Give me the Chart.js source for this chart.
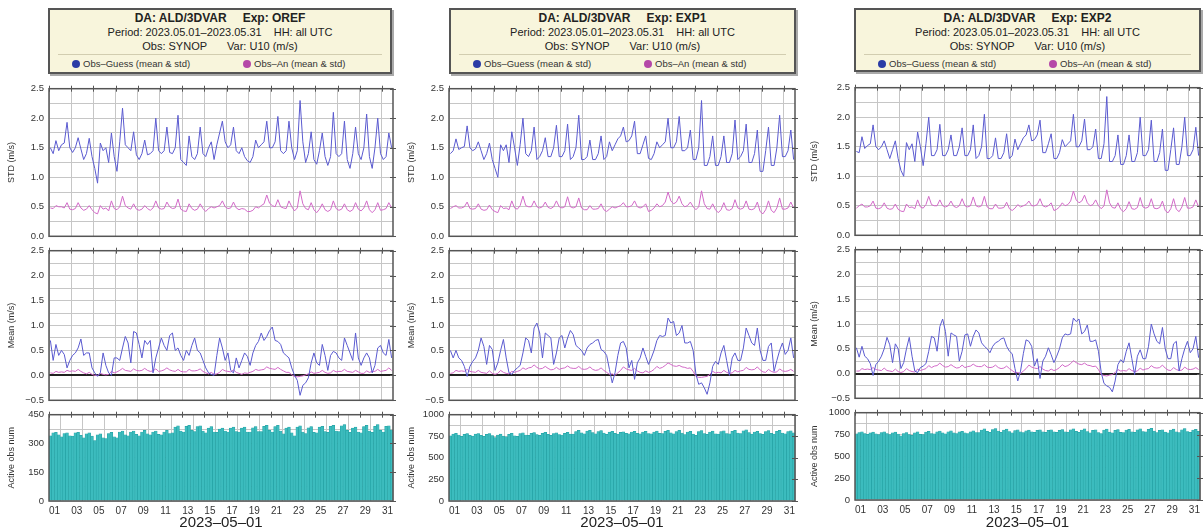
<!DOCTYPE html>
<html>
<head>
<meta charset="utf-8">
<script src="https://cdn.jsdelivr.net/npm/chart.js@4.4.0/dist/chart.umd.min.js"></script>
<style>
  body { margin: 0; width: 1203px; height: 532px; background: #fff; position: relative; overflow: hidden;
         font-family: "Liberation Sans", Arial, sans-serif; }
  canvas { position: absolute; }
  .box { position: absolute; border: 2px solid #555; background: #f8f5dc; box-shadow: 2px 2px 0 #aaa;
         box-sizing: border-box; color: #222; }
  .box .ln { position: absolute; left: 0; width: 100%; text-align: center; white-space: nowrap; }
  .box .l1 { top: 1px; font-weight: bold; font-size: 12px; line-height: 14px; }
  .box .l2 { top: 16px; font-size: 11px; line-height: 13px; }
  .box .l3 { top: 30px; font-size: 11px; line-height: 13px; }
  .box .sep { position: absolute; top: 44px; left: 8px; right: 8px; border-top: 1px solid #d2cdb0; }
  .box .leg { position: absolute; top: 48px; font-size: 9.5px; line-height: 12px; white-space: nowrap; color: #333; }
  .box .dot { display: inline-block; width: 8px; height: 8px; border-radius: 50%; vertical-align: -1px; margin-right: 3px; }
</style>
</head>
<body>
<script>
// x axis: May 2023, values in days since 2023-05-01 00 UTC, 4 samples a day
const gridDays = [0, 2, 4, 6, 8, 10, 12, 14, 16, 18, 20, 22, 24, 26, 28, 30];
const dayLabels = ['01','03','05','07','09','11','13','15','17','19','21','23','25','27','29','31'];
const stdTicks = [0, 0.25, 0.5, 0.75, 1, 1.25, 1.5, 1.75, 2, 2.25, 2.5];
const meanTicks = [-0.5, -0.25, 0, 0.25, 0.5, 0.75, 1, 1.25, 1.5, 1.75, 2, 2.25, 2.5];
const obsTicksOref = [0, 75, 150, 225, 300, 375, 450];
const obsTicksExp = [0, 125, 250, 375, 500, 625, 750, 875, 1000];
const experiments = ['OREF', 'EXP1', 'EXP2'];

// ---- OREF ----
const stdGuessOref = [
  1.50,1.40,1.62,1.45, 1.55,1.58,1.93,1.50, 1.42,1.50,1.67,1.48, 1.30,1.40,1.66,1.35,
  1.15,0.90,1.58,1.45, 1.50,1.25,1.75,1.35, 1.10,1.60,2.17,1.55, 1.50,1.45,1.77,1.38,
  1.30,1.40,1.63,1.38, 1.40,1.45,2.00,1.45, 1.40,1.45,1.85,1.42, 1.40,1.50,2.05,1.30,
  1.25,1.20,1.70,1.35, 1.30,1.40,1.85,1.40, 1.35,1.50,1.60,1.30, 1.55,1.75,1.95,1.60,
  1.50,1.55,1.85,1.45, 1.40,1.50,1.35,1.28, 1.25,1.35,1.63,1.50, 1.55,1.60,1.95,1.50,
  1.50,1.60,2.03,1.45, 1.40,1.45,1.95,1.50, 1.30,1.45,2.30,1.60, 1.25,1.40,1.77,1.30,
  1.22,1.45,1.75,1.35, 1.20,1.35,2.10,1.40, 1.35,1.40,1.95,1.30, 1.15,1.40,1.85,1.40,
  1.30,1.50,2.07,1.35, 1.15,1.50,2.00,1.40, 1.30,1.35,1.75,1.50
];
const stdAnOref = [
  0.48,0.47,0.52,0.50, 0.50,0.48,0.57,0.46, 0.45,0.47,0.57,0.48, 0.44,0.46,0.52,0.45,
  0.40,0.38,0.52,0.46, 0.48,0.43,0.60,0.47, 0.45,0.50,0.68,0.52, 0.48,0.46,0.55,0.46,
  0.44,0.46,0.52,0.47, 0.44,0.48,0.60,0.48, 0.46,0.47,0.58,0.50, 0.47,0.48,0.63,0.46,
  0.43,0.42,0.55,0.47, 0.44,0.46,0.55,0.47, 0.42,0.47,0.50,0.48, 0.50,0.52,0.60,0.50,
  0.47,0.48,0.58,0.48, 0.45,0.47,0.46,0.42, 0.42,0.44,0.50,0.48, 0.52,0.55,0.70,0.56,
  0.52,0.50,0.62,0.50, 0.48,0.47,0.60,0.50, 0.43,0.48,0.77,0.55, 0.47,0.45,0.57,0.45,
  0.40,0.46,0.55,0.45, 0.42,0.45,0.60,0.47, 0.44,0.46,0.55,0.45, 0.42,0.45,0.57,0.46,
  0.43,0.48,0.60,0.45, 0.40,0.45,0.57,0.44, 0.45,0.47,0.57,0.48
];
const meanGuessOref = [
  0.70,0.30,0.62,0.40, 0.50,0.42,0.15,0.30, 0.40,0.45,0.55,0.73, 0.40,0.45,0.45,0.15,
  0.05,-0.02,0.05,0.45, 0.20,0.05,0.00,0.35, 0.35,0.30,0.55,0.78, 0.65,0.25,0.88,0.85,
  0.62,0.35,0.70,0.62, 0.70,0.05,0.35,0.55, 0.75,0.60,0.50,0.80, 0.85,0.50,0.55,0.40,
  0.30,0.50,0.40,0.60, 0.75,0.50,0.45,0.30, 0.15,0.05,0.02,0.00, 0.40,0.75,0.55,0.30,
  0.45,0.10,0.05,0.35, 0.15,0.30,0.45,0.38, 0.20,0.45,0.60,0.68, 0.85,0.70,0.78,0.90,
  0.97,0.70,0.68,0.62, 0.45,0.40,0.35,0.15, 0.00,-0.10,-0.40,-0.20, -0.15,-0.05,0.25,0.45,
  0.25,0.20,0.62,0.40, 0.10,0.40,0.48,0.45, 0.35,0.30,0.75,0.60, 0.45,0.30,0.85,0.35,
  0.20,0.35,0.45,0.35, 0.05,0.20,0.55,0.60, 0.45,0.40,0.72,0.35
];
const meanAnOref = [
  0.05,0.04,0.08,0.06, 0.07,0.06,0.10,0.08, 0.09,0.08,0.12,0.08, 0.05,0.03,0.06,0.02,
  0.00,0.00,0.04,0.02, 0.01,0.02,0.08,0.05, 0.07,0.10,0.14,0.10, 0.09,0.08,0.13,0.10,
  0.09,0.10,0.14,0.10, 0.08,0.09,0.13,0.08, 0.09,0.11,0.15,0.11, 0.09,0.08,0.12,0.08,
  0.07,0.07,0.12,0.09, 0.09,0.10,0.13,0.08, 0.05,0.03,0.06,0.02, 0.03,0.06,0.12,0.09,
  0.08,0.07,0.11,0.06, 0.04,0.02,0.05,0.04, 0.06,0.08,0.12,0.10, 0.11,0.12,0.17,0.14,
  0.13,0.12,0.16,0.12, 0.09,0.06,0.06,0.01, -0.02,-0.03,-0.02,-0.01, 0.01,0.03,0.07,0.04,
  0.05,0.06,0.10,0.06, 0.04,0.05,0.10,0.07, 0.08,0.08,0.12,0.08, 0.07,0.06,0.10,0.07,
  0.04,0.04,0.09,0.06, 0.08,0.08,0.12,0.08, 0.09,0.10,0.15,0.10
];
const obsOref = [
  340,355,358,345, 335,352,355,340, 338,355,358,342, 330,350,355,338,
  315,345,350,330, 325,352,358,335, 330,360,365,345, 340,360,365,348,
  340,360,368,350, 345,360,365,348, 345,360,368,352, 355,385,392,365,
  360,390,395,368, 362,388,392,365, 355,380,388,360, 358,375,380,365,
  360,380,385,362, 360,380,385,360, 360,382,388,362, 362,390,395,368,
  360,388,395,365, 350,380,385,355, 340,385,392,360, 352,382,388,358,
  355,385,390,362, 358,390,395,365, 362,392,398,368, 358,380,385,360,
  355,388,395,365, 358,390,398,368, 360,390,392,370
];

// ---- EXP1 ----
const stdGuessExp1 = [
  1.40,1.45,1.65,1.47, 1.50,1.52,1.87,1.50, 1.45,1.48,1.60,1.45, 1.30,1.40,1.58,1.30,
  1.15,1.00,1.55,1.45, 1.55,1.25,1.77,1.50, 1.20,1.55,2.00,1.40, 1.35,1.45,1.85,1.30,
  1.35,1.45,1.67,1.35, 1.35,1.50,1.88,1.35, 1.35,1.45,1.90,1.30, 1.35,1.50,2.05,1.30,
  1.30,1.35,1.63,1.30, 1.30,1.40,1.70,1.30, 1.35,1.60,1.45,1.55, 1.65,1.70,1.85,1.60,
  1.62,1.70,1.95,1.40, 1.40,1.55,1.70,1.32, 1.30,1.40,1.60,1.50, 1.55,1.60,2.00,1.50,
  1.50,1.60,2.03,1.45, 1.45,1.50,1.80,1.30, 1.30,1.50,2.30,1.20, 1.20,1.35,1.70,1.20,
  1.20,1.35,1.70,1.25, 1.25,1.40,1.97,1.30, 1.35,1.45,1.90,1.25, 1.25,1.40,1.80,1.10,
  1.10,1.45,1.85,1.20, 1.20,1.50,2.05,1.35, 1.35,1.45,1.80,1.30
];
const stdAnExp1 = [
  0.47,0.50,0.52,0.48, 0.48,0.50,0.58,0.47, 0.46,0.47,0.55,0.46, 0.44,0.45,0.53,0.45,
  0.42,0.40,0.52,0.47, 0.48,0.45,0.60,0.48, 0.46,0.52,0.68,0.52, 0.50,0.50,0.60,0.50,
  0.48,0.50,0.58,0.49, 0.47,0.50,0.60,0.50, 0.48,0.50,0.67,0.50, 0.48,0.50,0.65,0.48,
  0.45,0.45,0.52,0.46, 0.46,0.47,0.55,0.45, 0.42,0.46,0.50,0.48, 0.50,0.52,0.57,0.50,
  0.50,0.52,0.60,0.50, 0.48,0.50,0.55,0.42, 0.44,0.48,0.55,0.50, 0.52,0.58,0.75,0.60,
  0.55,0.58,0.68,0.55, 0.50,0.52,0.58,0.50, 0.45,0.50,0.77,0.55, 0.47,0.46,0.55,0.45,
  0.40,0.45,0.57,0.45, 0.44,0.47,0.62,0.48, 0.46,0.48,0.60,0.46, 0.45,0.47,0.58,0.42,
  0.38,0.45,0.60,0.44, 0.40,0.48,0.65,0.46, 0.46,0.48,0.58,0.48
];
const meanGuessExp1 = [
  0.50,0.35,0.50,0.35, 0.30,0.18,-0.02,0.18, 0.28,0.35,0.50,0.75, 0.58,0.22,0.60,0.52,
  0.10,0.25,0.50,0.72, 0.35,0.05,0.02,0.10, 0.15,0.20,0.45,0.75, 0.70,0.45,0.95,1.05,
  0.85,0.35,0.85,0.80, 0.75,0.22,0.45,0.75, 0.80,0.55,0.75,0.90, 0.82,0.60,0.55,0.50,
  0.40,0.55,0.62,0.65, 0.70,0.72,0.52,0.48, 0.40,0.12,-0.15,0.05, 0.40,0.65,0.68,0.55,
  0.15,0.30,-0.08,0.25, 0.35,0.55,0.38,0.22, 0.35,0.50,0.70,0.80, 0.78,0.80,1.15,1.05,
  1.08,0.80,0.85,1.00, 0.65,0.65,0.68,0.50, 0.02,-0.18,-0.15,-0.25, -0.38,-0.15,0.18,0.28,
  0.22,0.45,0.60,0.30, 0.00,0.35,0.45,0.30, 0.30,0.55,0.95,0.80, 0.65,0.60,0.95,0.50,
  0.30,0.30,0.58,0.65, 0.08,0.30,0.50,0.65, 0.42,0.50,0.75,0.35
];
const meanAnExp1 = [
  0.04,0.05,0.10,0.08, 0.09,0.08,0.12,0.08, 0.07,0.06,0.10,0.06, 0.05,0.04,0.09,0.04,
  0.02,0.04,0.10,0.06, 0.04,0.03,0.08,0.06, 0.08,0.10,0.15,0.12, 0.15,0.16,0.21,0.16,
  0.13,0.14,0.18,0.14, 0.11,0.12,0.16,0.12, 0.14,0.15,0.19,0.15, 0.14,0.14,0.18,0.13,
  0.12,0.13,0.17,0.12, 0.10,0.11,0.15,0.10, 0.06,0.02,0.03,0.00, 0.05,0.10,0.17,0.13,
  0.11,0.10,0.14,0.09, 0.06,0.05,0.09,0.06, 0.08,0.12,0.18,0.14, 0.16,0.20,0.25,0.22,
  0.19,0.18,0.20,0.17, 0.16,0.14,0.15,0.08, -0.02,-0.04,-0.04,-0.03, -0.02,0.02,0.08,0.05,
  0.06,0.05,0.10,0.06, 0.04,0.05,0.10,0.07, 0.09,0.10,0.16,0.12, 0.11,0.12,0.17,0.11,
  0.07,0.06,0.12,0.08, 0.06,0.07,0.13,0.09, 0.08,0.09,0.12,0.08
];
const obsExp1 = [
  755,775,785,765, 750,772,780,760, 752,775,782,762, 748,772,780,758,
  735,765,775,752, 745,772,785,755, 750,780,790,765, 760,785,792,770,
  760,785,795,772, 762,782,790,770, 765,785,795,775, 775,805,818,790,
  778,810,820,792, 778,805,815,788, 772,798,808,785, 775,795,802,785,
  778,800,808,785, 778,800,808,782, 778,800,810,785, 780,808,818,790,
  778,805,818,788, 770,800,808,775, 762,805,815,780, 772,800,810,778,
  775,805,812,782, 778,808,818,788, 782,812,825,792, 775,800,808,780,
  772,805,815,785, 775,808,820,788, 778,805,812,790
];

// ---- EXP2 ----
const stdGuessExp2 = [
  1.42,1.40,1.67,1.47, 1.52,1.55,1.87,1.50, 1.45,1.50,1.60,1.45, 1.30,1.45,1.60,1.30,
  1.10,1.00,1.57,1.45, 1.55,1.25,1.75,1.50, 1.18,1.55,2.00,1.35, 1.35,1.45,1.88,1.35,
  1.35,1.45,1.70,1.35, 1.35,1.50,1.82,1.35, 1.35,1.45,1.87,1.30, 1.35,1.50,2.05,1.30,
  1.30,1.35,1.65,1.30, 1.30,1.40,1.72,1.30, 1.35,1.63,1.45,1.55, 1.65,1.70,1.87,1.60,
  1.62,1.70,1.95,1.40, 1.40,1.55,1.72,1.30, 1.30,1.40,1.62,1.50, 1.55,1.60,2.05,1.50,
  1.50,1.60,1.97,1.45, 1.45,1.50,1.80,1.30, 1.30,1.55,2.35,1.25, 1.25,1.35,1.70,1.20,
  1.20,1.35,1.70,1.25, 1.25,1.40,2.00,1.35, 1.35,1.45,1.95,1.25, 1.25,1.40,1.80,1.10,
  1.10,1.45,1.82,1.20, 1.20,1.50,2.00,1.35, 1.35,1.45,1.83,1.35
];
const stdAnExp2 = [
  0.46,0.50,0.53,0.48, 0.48,0.50,0.58,0.46, 0.45,0.47,0.55,0.46, 0.44,0.45,0.53,0.44,
  0.41,0.40,0.53,0.47, 0.48,0.45,0.60,0.48, 0.46,0.52,0.66,0.52, 0.50,0.50,0.60,0.50,
  0.48,0.50,0.58,0.49, 0.47,0.50,0.62,0.50, 0.48,0.50,0.65,0.50, 0.48,0.50,0.66,0.48,
  0.45,0.45,0.53,0.46, 0.46,0.47,0.56,0.45, 0.42,0.46,0.52,0.48, 0.50,0.52,0.58,0.50,
  0.50,0.52,0.62,0.50, 0.48,0.50,0.55,0.42, 0.44,0.48,0.55,0.50, 0.52,0.58,0.75,0.60,
  0.55,0.58,0.68,0.55, 0.50,0.52,0.60,0.50, 0.45,0.50,0.77,0.55, 0.47,0.46,0.55,0.44,
  0.40,0.45,0.57,0.45, 0.44,0.47,0.64,0.48, 0.46,0.48,0.62,0.46, 0.45,0.47,0.58,0.42,
  0.38,0.45,0.62,0.44, 0.40,0.48,0.64,0.46, 0.46,0.48,0.60,0.48
];
const meanGuessExp2 = [
  0.52,0.33,0.55,0.35, 0.30,0.20,-0.04,0.18, 0.25,0.35,0.50,0.73, 0.58,0.22,0.60,0.50,
  0.10,0.22,0.50,0.73, 0.35,0.05,0.02,0.12, 0.15,0.20,0.45,0.75, 0.72,0.45,0.95,1.10,
  0.85,0.35,0.82,0.78, 0.75,0.25,0.45,0.78, 0.80,0.55,0.75,0.88, 0.82,0.62,0.55,0.50,
  0.42,0.55,0.62,0.65, 0.70,0.72,0.55,0.45, 0.40,0.10,-0.15,0.05, 0.40,0.68,0.65,0.55,
  0.15,0.30,-0.10,0.25, 0.35,0.52,0.38,0.22, 0.35,0.50,0.72,0.80, 0.78,0.80,1.12,1.05,
  1.10,0.80,0.85,0.98, 0.65,0.65,0.68,0.45, 0.02,-0.20,-0.25,-0.28, -0.37,-0.15,0.18,0.28,
  0.22,0.45,0.62,0.30, -0.02,0.35,0.48,0.30, 0.30,0.55,1.00,0.80, 0.65,0.60,0.93,0.50,
  0.30,0.30,0.60,0.65, 0.05,0.30,0.50,0.65, 0.42,0.50,0.75,0.32
];
const meanAnExp2 = [
  0.05,0.05,0.10,0.08, 0.09,0.08,0.12,0.08, 0.07,0.06,0.11,0.06, 0.05,0.04,0.09,0.04,
  0.02,0.04,0.10,0.06, 0.04,0.03,0.09,0.06, 0.08,0.10,0.16,0.12, 0.15,0.16,0.21,0.16,
  0.13,0.14,0.18,0.14, 0.11,0.12,0.17,0.12, 0.14,0.15,0.19,0.15, 0.14,0.14,0.18,0.13,
  0.12,0.13,0.17,0.12, 0.10,0.11,0.15,0.10, 0.06,0.02,0.02,0.00, 0.05,0.10,0.17,0.13,
  0.11,0.10,0.14,0.09, 0.06,0.05,0.09,0.06, 0.08,0.12,0.18,0.14, 0.16,0.20,0.26,0.22,
  0.19,0.18,0.21,0.17, 0.16,0.14,0.15,0.08, -0.02,-0.04,-0.05,-0.03, -0.02,0.02,0.08,0.05,
  0.06,0.05,0.10,0.06, 0.04,0.05,0.11,0.07, 0.09,0.10,0.16,0.12, 0.11,0.12,0.17,0.11,
  0.07,0.06,0.12,0.08, 0.06,0.07,0.13,0.09, 0.08,0.09,0.12,0.08
];
const obsExp2 = [
  758,772,782,762, 752,770,778,758, 750,772,780,760, 748,770,778,756,
  735,762,772,750, 742,770,782,752, 748,778,788,762, 758,782,790,768,
  758,782,792,770, 760,780,788,768, 762,782,792,772, 772,802,815,788,
  775,808,818,790, 775,802,812,785, 770,795,805,782, 772,792,800,782,
  775,798,805,782, 775,798,805,780, 775,798,808,782, 778,805,815,788,
  775,802,815,785, 768,798,805,772, 760,802,812,778, 770,798,808,775,
  772,802,810,780, 775,805,815,785, 780,810,822,790, 772,798,805,778,
  770,802,812,782, 772,805,818,785, 775,802,810,788
];

const GUESS_COLOR = '#5a5ad0';
const AN_COLOR = '#d26ac8';
const BAR_COLOR = '#3cbcbe';
const GRID = '#c6c6c6';
const TXT = '#333';

// layout of the three panels (page pixels of each plot frame)
const panels = [
  { exp: 0, left: 49, right: 393, std: [86, 239], mean: [248, 403], obs: [412, 501], box: [48, 8, 344, 66], titlePad: 6,
    series: { stdG: stdGuessOref, stdA: stdAnOref, meanG: meanGuessOref, meanA: meanAnOref, obs: obsOref }, obsTicks: obsTicksOref, obsStep: 150, obsMax: 450 },
  { exp: 1, left: 449, right: 795, std: [86, 239], mean: [248, 403], obs: [412, 501], box: [449, 8, 347, 66], titlePad: 6,
    series: { stdG: stdGuessExp1, stdA: stdAnExp1, meanG: meanGuessExp1, meanA: meanAnExp1, obs: obsExp1 }, obsTicks: obsTicksExp, obsStep: 250, obsMax: 1000 },
  { exp: 2, left: 855, right: 1200, std: [85, 238], mean: [247, 401], obs: [410, 500], box: [854, 8, 347, 64], titlePad: 3,
    series: { stdG: stdGuessExp2, stdA: stdAnExp2, meanG: meanGuessExp2, meanA: meanAnExp2, obs: obsExp2 }, obsTicks: obsTicksExp, obsStep: 250, obsMax: 1000 }
];

const YW = 49; // width reserved for y labels + title
Chart.defaults.font.family = '"Liberation Sans", Arial, sans-serif';
Chart.defaults.color = TXT;

// frame around the plot + small ticks on top / right border
const framePlugin = {
  id: 'frame',
  afterDraw(chart) {
    const { ctx, chartArea: a, scales } = chart;
    ctx.save();
    ctx.strokeStyle = '#555';
    ctx.lineWidth = 1.5;
    ctx.strokeRect(a.left, a.top, a.right - a.left, a.bottom - a.top);
    ctx.lineWidth = 1;
    ctx.beginPath();
    scales.x.ticks.forEach(t => {
      const px = Math.round(scales.x.getPixelForValue(t.value)) + 0.5;
      ctx.moveTo(px, a.top - 3);
      ctx.lineTo(px, a.top + 3);
    });
    scales.y.ticks.forEach(t => {
      if (t.label === '') return;
      const py = Math.round(scales.y.getPixelForValue(t.value)) + 0.5;
      ctx.moveTo(a.right - 3, py);
      ctx.lineTo(a.right + 3, py);
    });
    ctx.stroke();
    ctx.restore();
  }
};

function addCanvas(left, top, width, height) {
  const c = document.createElement('canvas');
  c.width = width;
  c.height = height;
  c.style.left = left + 'px';
  c.style.top = top + 'px';
  document.body.appendChild(c);
  return c;
}

function toPoints(values) {
  return values.map((v, i) => ({ x: (i + 0.5) / 4, y: v }));
}

function xScale(p, axisH) {
  const sc = {
    type: 'linear', min: 0, max: 31,
    afterBuildTicks: ax => { ax.ticks = gridDays.map(v => ({ value: v })); },
    afterFit: ax => { ax.height = axisH; },
    grid: { color: GRID, lineWidth: 1, drawTicks: false },
    border: { display: false },
    ticks: { display: false }
  };
  if (axisH > 0) {
    sc.ticks = {
      display: true, autoSkip: false, maxRotation: 0, padding: 4,
      labelOffset: (p.right - p.left) / 62,
      font: { size: 10 }, color: TXT,
      callback: (v, i) => dayLabels[i]
    };
    sc.title = { display: true, text: '2023–05–01', font: { size: 15 }, color: '#222', padding: { top: 0, bottom: 0 } };
  }
  return sc;
}

function yScale(p, tickVals, min, max, step, title, fmt, zeroLine) {
  return {
    min: min, max: max,
    afterBuildTicks: ax => { ax.ticks = tickVals.map(v => ({ value: v })); },
    afterFit: ax => { ax.width = YW; },
    grid: {
      drawTicks: false,
      color: c => (zeroLine && c.tick && c.tick.value === 0) ? '#222' : GRID,
      lineWidth: c => (zeroLine && c.tick && c.tick.value === 0) ? 2 : 1
    },
    border: { display: false },
    ticks: {
      autoSkip: false, padding: 5, font: { size: 9.5 }, color: TXT,
      callback: v => (Math.abs(v / step - Math.round(v / step)) < 1e-6 ? fmt(v) : '')
    },
    title: { display: true, text: title, font: { size: 9 }, color: TXT, padding: { top: p.titlePad, bottom: 0 } }
  };
}

const fmt1 = v => v.toFixed(1).replace('-', '−');

function lineChart(p, range, tickVals, min, max, title, guess, an, zeroLine) {
  const top = range[0] - 8;
  const height = range[1] - range[0] + 16;
  const left = p.left - YW;
  const canvas = addCanvas(left, top, p.right - left + 4, height);
  new Chart(canvas, {
    type: 'line',
    data: {
      datasets: [
        { data: toPoints(guess), borderColor: GUESS_COLOR, borderWidth: 1, pointRadius: 0, tension: 0 },
        { data: toPoints(an), borderColor: AN_COLOR, borderWidth: 1, pointRadius: 0, tension: 0 }
      ]
    },
    options: {
      responsive: false, animation: false, devicePixelRatio: 1,
      layout: { padding: { top: 8, bottom: 8, left: 0, right: 4 } },
      plugins: { legend: { display: false }, tooltip: { enabled: false } },
      scales: {
        x: xScale(p, 0),
        y: yScale(p, tickVals, min, max, 0.5, title, fmt1, zeroLine)
      }
    },
    plugins: [framePlugin]
  });
}

function barChart(p) {
  const top = p.obs[0] - 8;
  const height = 532 - top;
  const left = p.left - YW;
  const canvas = addCanvas(left, top, p.right - left + 4, height);
  new Chart(canvas, {
    type: 'bar',
    data: {
      datasets: [{
        data: toPoints(p.series.obs),
        backgroundColor: BAR_COLOR, borderColor: '#1f9c9e', borderWidth: 0.5,
        barPercentage: 1, categoryPercentage: 1
      }]
    },
    options: {
      responsive: false, animation: false, devicePixelRatio: 1,
      layout: { padding: { top: 8, bottom: 0, left: 0, right: 4 } },
      plugins: { legend: { display: false }, tooltip: { enabled: false } },
      scales: {
        x: Object.assign(xScale(p, 532 - p.obs[1]), { offset: false }),
        y: yScale(p, p.obsTicks, 0, p.obsMax, p.obsStep, 'Active obs num', v => String(v), false)
      }
    },
    plugins: [framePlugin]
  });
}

function headerBox(p) {
  const [x, y, w, h] = p.box;
  const d = document.createElement('div');
  d.className = 'box';
  d.style.left = x + 'px';
  d.style.top = y + 'px';
  d.style.width = w + 'px';
  d.style.height = h + 'px';
  d.innerHTML =
    '<div class="ln l1">DA: ALD/3DVAR<span style="margin-left:16px">Exp: ' + experiments[p.exp] + '</span></div>' +
    '<div class="ln l2">Period: 2023.05.01–2023.05.31<span style="margin-left:12px">HH: all UTC</span></div>' +
    '<div class="ln l3">Obs: SYNOP<span style="margin-left:20px">Var: U10 (m/s)</span></div>' +
    '<div class="sep"></div>' +
    '<div class="leg" style="left:22px"><span class="dot" style="background:#2b3ca6"></span>Obs–Guess (mean &amp; std)</div>' +
    '<div class="leg" style="left:193px"><span class="dot" style="background:#b548a8"></span>Obs–An (mean &amp; std)</div>';
  document.body.appendChild(d);
}

panels.forEach(p => {
  headerBox(p);
  lineChart(p, p.std, stdTicks, 0, 2.5, 'STD (m/s)', p.series.stdG, p.series.stdA, false);
  lineChart(p, p.mean, meanTicks, -0.5, 2.5, 'Mean (m/s)', p.series.meanG, p.series.meanA, true);
  barChart(p);
});
</script>
</body>
</html>
